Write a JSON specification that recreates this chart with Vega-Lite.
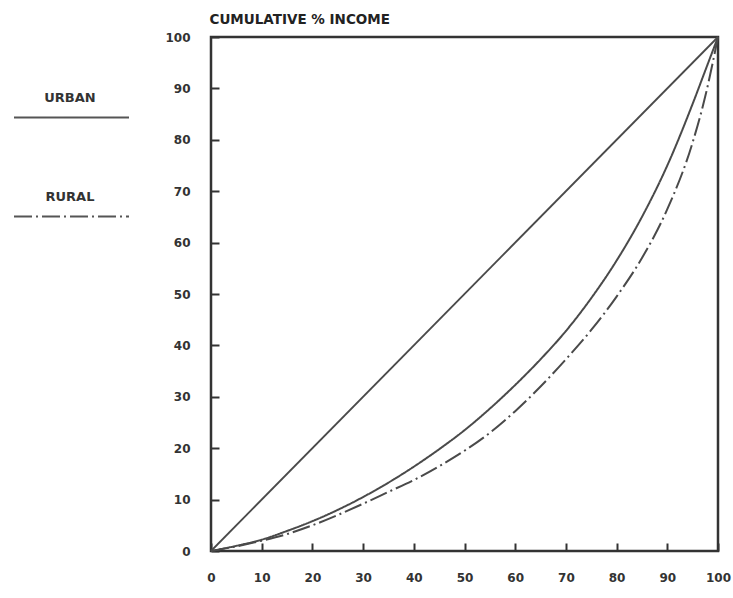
{
  "$schema": "https://vega.github.io/schema/vega-lite/v6.json",
  "width": 507,
  "height": 514,
  "autosize": {"type": "none"},
  "padding": {"left": 211, "top": 37, "right": 15, "bottom": 47},
  "background": "white",
  "config": {
    "font": "DejaVu Sans",
    "view": {"stroke": "#333", "strokeWidth": 2.5}
  },
  "encoding": {
    "x": {
      "field": "x", "type": "quantitative",
      "scale": {"domain": [0, 100], "nice": false},
      "axis": {
        "values": [0, 10, 20, 30, 40, 50, 60, 70, 80, 90, 100],
        "title": null, "domain": false, "grid": false,
        "ticks": true, "tickSize": -8, "tickWidth": 2, "tickColor": "#333",
        "labelPadding": 29, "labelFlush": false,
        "labelFontSize": 12, "labelFontWeight": "bold", "labelColor": "#333"
      }
    },
    "y": {
      "field": "y", "type": "quantitative",
      "scale": {"domain": [0, 100], "nice": false},
      "axis": {
        "values": [0, 10, 20, 30, 40, 50, 60, 70, 80, 90, 100],
        "domain": false, "grid": false,
        "ticks": true, "tickSize": -8, "tickWidth": 2, "tickColor": "#333",
        "title": "CUMULATIVE % INCOME",
        "titleAngle": 0, "titleAlign": "left", "titleBaseline": "alphabetic",
        "titleX": -2, "titleY": -14,
        "titleFontSize": 13.5, "titleFontWeight": "bold", "titleColor": "#222",
        "labelPadding": 29, "labelFlush": false,
        "labelFontSize": 12, "labelFontWeight": "bold", "labelColor": "#333"
      }
    }
  },
  "layer": [
    {
      "data": {"values": [{"x": 0, "y": 0}, {"x": 100, "y": 100}]},
      "mark": {"type": "line", "color": "#4a4a4a", "strokeWidth": 1.8},
      "encoding": {}
    },
    {
      "data": {"values": [
        {"area": "URBAN", "x": 0, "y": 0},
        {"area": "URBAN", "x": 5, "y": 1},
        {"area": "URBAN", "x": 10, "y": 2.2},
        {"area": "URBAN", "x": 15, "y": 3.9},
        {"area": "URBAN", "x": 20, "y": 5.8},
        {"area": "URBAN", "x": 25, "y": 8},
        {"area": "URBAN", "x": 30, "y": 10.5},
        {"area": "URBAN", "x": 35, "y": 13.3},
        {"area": "URBAN", "x": 40, "y": 16.4},
        {"area": "URBAN", "x": 45, "y": 19.8},
        {"area": "URBAN", "x": 50, "y": 23.5},
        {"area": "URBAN", "x": 55, "y": 27.7},
        {"area": "URBAN", "x": 60, "y": 32.3},
        {"area": "URBAN", "x": 65, "y": 37.3},
        {"area": "URBAN", "x": 70, "y": 42.8},
        {"area": "URBAN", "x": 75, "y": 49.2},
        {"area": "URBAN", "x": 80, "y": 56.5},
        {"area": "URBAN", "x": 85, "y": 65},
        {"area": "URBAN", "x": 90, "y": 75},
        {"area": "URBAN", "x": 95, "y": 87},
        {"area": "URBAN", "x": 97.5, "y": 93.5},
        {"area": "URBAN", "x": 100, "y": 100},
        {"area": "RURAL", "x": 0, "y": 0},
        {"area": "RURAL", "x": 5, "y": 0.9},
        {"area": "RURAL", "x": 10, "y": 2},
        {"area": "RURAL", "x": 15, "y": 3.3},
        {"area": "RURAL", "x": 20, "y": 5},
        {"area": "RURAL", "x": 25, "y": 7},
        {"area": "RURAL", "x": 30, "y": 9.2},
        {"area": "RURAL", "x": 35, "y": 11.5},
        {"area": "RURAL", "x": 40, "y": 13.8},
        {"area": "RURAL", "x": 45, "y": 16.5},
        {"area": "RURAL", "x": 50, "y": 19.5},
        {"area": "RURAL", "x": 55, "y": 23},
        {"area": "RURAL", "x": 60, "y": 27.2},
        {"area": "RURAL", "x": 65, "y": 32},
        {"area": "RURAL", "x": 70, "y": 37.3},
        {"area": "RURAL", "x": 75, "y": 43},
        {"area": "RURAL", "x": 80, "y": 49.5},
        {"area": "RURAL", "x": 85, "y": 57},
        {"area": "RURAL", "x": 90, "y": 66.5},
        {"area": "RURAL", "x": 95, "y": 79.5},
        {"area": "RURAL", "x": 97.5, "y": 88.5},
        {"area": "RURAL", "x": 100, "y": 100}
      ]},
      "mark": {"type": "line", "color": "#4a4a4a", "strokeWidth": 2, "interpolate": "monotone"},
      "encoding": {
        "strokeDash": {
          "field": "area", "type": "nominal",
          "scale": {"domain": ["URBAN", "RURAL"], "range": [[1, 0], [18, 4, 2, 4]]},
          "legend": {
            "title": null,
            "orient": "none", "legendX": -198, "legendY": 22,
            "padding": 0,
            "symbolType": "stroke", "symbolSize": 13225,
            "symbolStrokeWidth": 2, "symbolStrokeColor": "#555",
            "labelFontSize": 13, "labelFontWeight": "bold", "labelColor": "#333",
            "labelAlign": "center", "labelBaseline": "middle",
            "labelOffset": -60, "rowPadding": 36,
            "encode": {"labels": {"update": {"dy": {"value": -20}}}}
          }
        }
      }
    }
  ]
}
